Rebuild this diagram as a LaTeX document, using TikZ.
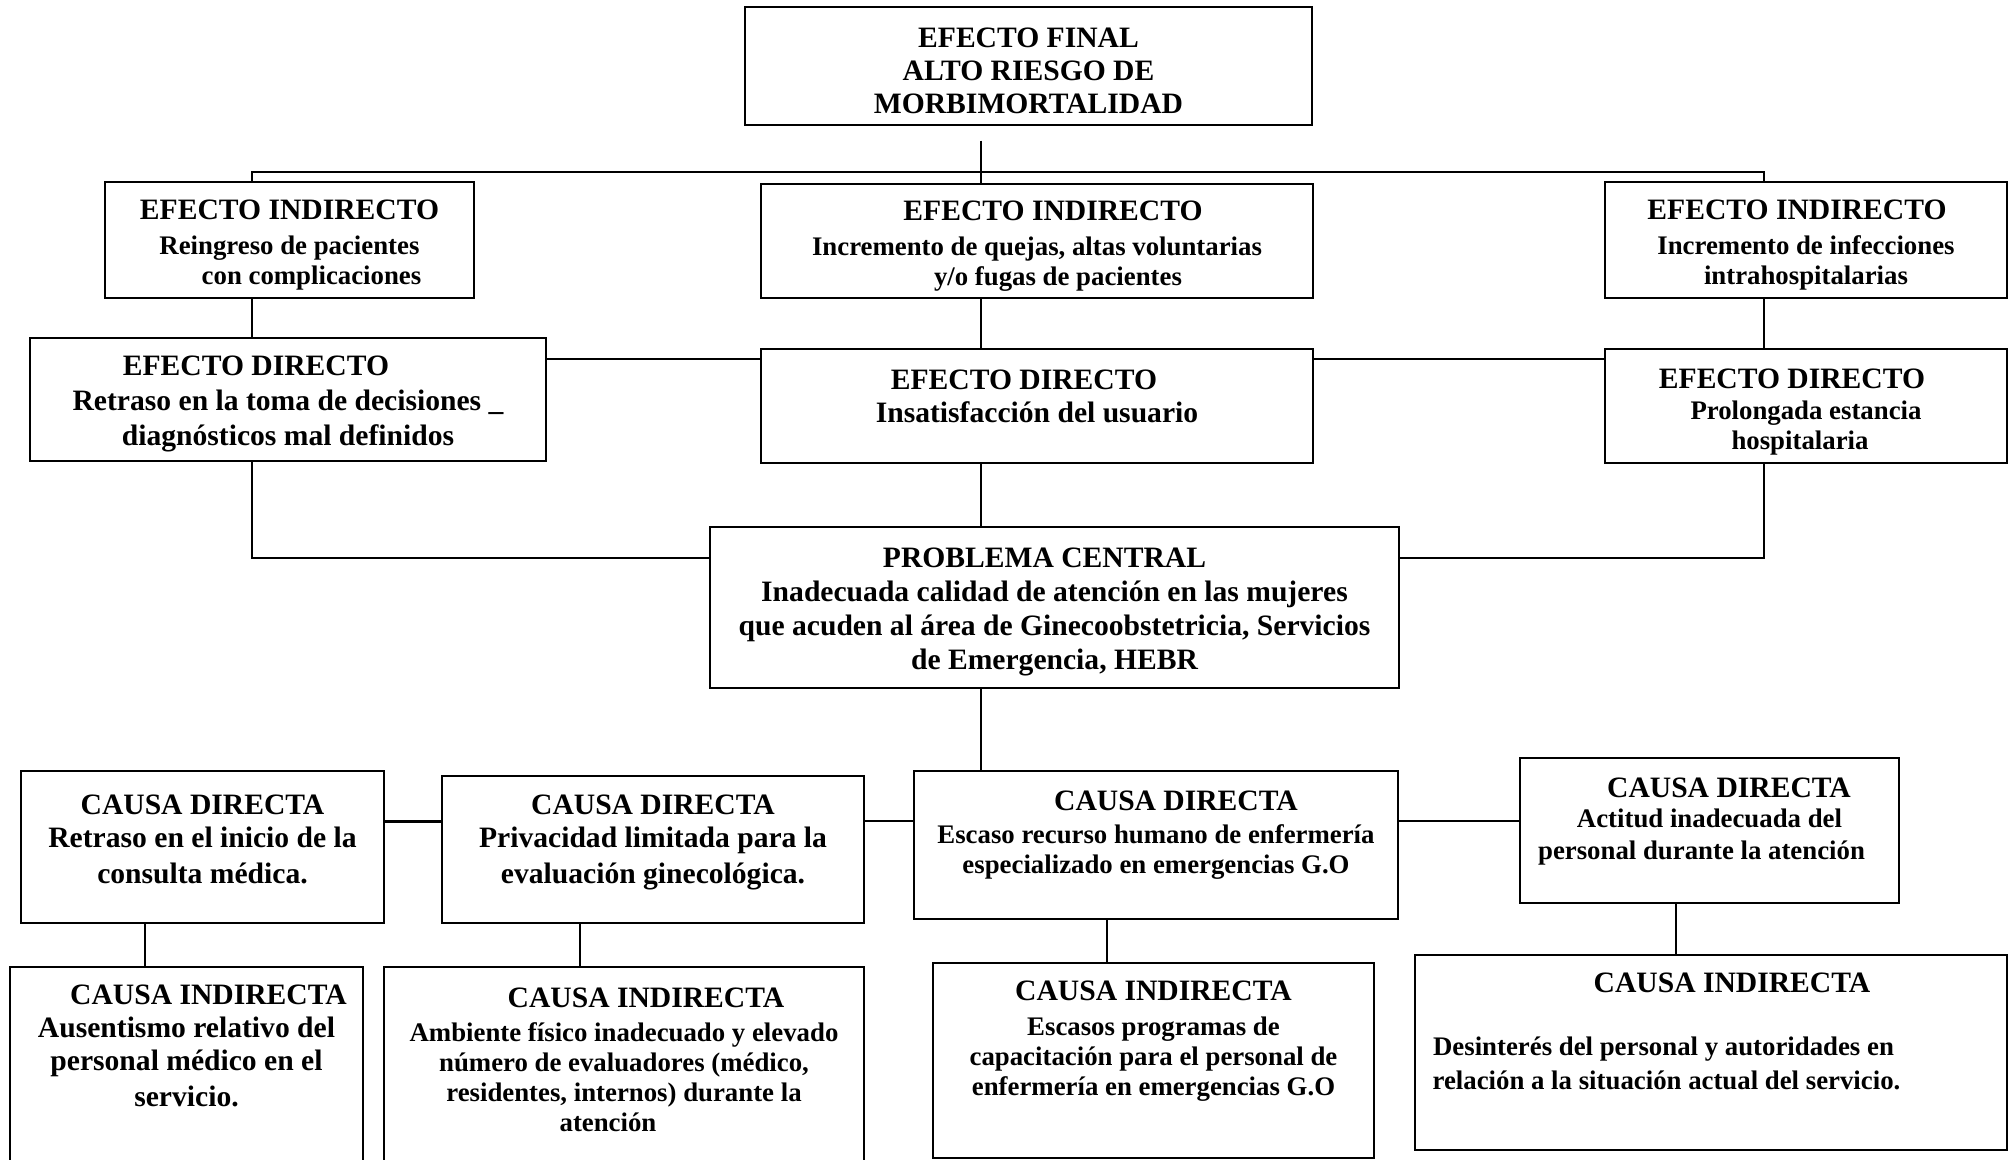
\documentclass[tikz,border=0pt]{standalone}
\usepackage{fontspec}
\setmainfont{Liberation Serif}
\tikzstyle{box} = [rectangle, draw, line width=0.75pt, align=center, inner sep=2pt, font=\bfseries\fontsize{14.8}{16.5}\selectfont]
\tikzstyle{sbox} = [box, font=\bfseries\fontsize{13.4}{15}\selectfont]
\tikzstyle{conn} = [line width=0.75pt]
\newcommand{\hd}{\fontsize{14.8}{16.5}\selectfont}
\newcommand{\lift}[1]{\rule[-#1]{0pt}{#1}}
\newcommand{\sink}[1]{\rule{0pt}{#1}}

\begin{document}
\begin{tikzpicture}[x=0.5pt, y=-0.5pt]
    \useasboundingbox (0,0) rectangle (2013,1160);
    % efectos
    \node [box, minimum width=283.5pt, minimum height=59pt] at (1028.5,66) (final) {\sink{15pt}EFECTO FINAL\\ALTO RIESGO DE\\MORBIMORTALIDAD};
    \node [sbox, minimum width=184.5pt, minimum height=58pt] at (289.5,240) (ei1) {\sink{14.5pt}{\hd EFECTO INDIRECTO}\\[2.5pt]Reingreso de pacientes\hspace*{23.5pt}\\\hspace*{22pt}con complicaciones};
    \node [sbox, minimum width=276pt, minimum height=57pt] at (1037,241) (ei2) {\sink{14.5pt}\hspace*{16pt}{\hd EFECTO INDIRECTO}\\[2.5pt]Incremento de quejas, altas voluntarias\hspace*{20pt}\\\hspace*{21pt}y/o fugas de pacientes};
    \node [sbox, minimum width=201pt, minimum height=58pt] at (1806,240) (ei3) {\sink{14.5pt}{\hd EFECTO INDIRECTO}\hspace*{9pt}\\[2.5pt]Incremento de infecciones\\intrahospitalarias};
    \node [box, minimum width=258pt, minimum height=61.5pt] at (288,399.5) (ed1) {\sink{13.8pt}EFECTO DIRECTO\hspace*{32pt}\\[1pt]Retraso en la toma de decisiones \_\\[1pt]diagnósticos mal definidos};
    \node [box, minimum width=276pt, minimum height=57pt] at (1037,406) (ed2) {EFECTO DIRECTO\hspace*{13pt}\\Insatisfacción del usuario\lift{10pt}};
    \node [sbox, minimum width=201pt, minimum height=57pt] at (1806,406) (ed3) {\sink{16.2pt}{\hd EFECTO DIRECTO}\hspace*{14pt}\\[0.5pt]Prolongada estancia\hspace*{6pt}\\hospitalaria\hspace*{6pt}};
    % problema central
    \node [box, minimum width=344.5pt, minimum height=80.5pt] at (1054.5,607.5) (central) {\sink{13.8pt}PROBLEMA CENTRAL\hspace*{10pt}\\[0.5pt]Inadecuada calidad de atención en las mujeres\\[0.5pt]que acuden al área de Ginecoobstetricia, Servicios\\[0.5pt]de Emergencia, HEBR};
    % causas
    \node [box, minimum width=181.5pt, minimum height=76pt] at (202.5,847) (cd1) {CAUSA DIRECTA\\Retraso en el inicio de la\\[1.5pt]consulta médica.\lift{8pt}};
    \node [box, minimum width=211pt, minimum height=73.5pt] at (653,849.5) (cd2) {CAUSA DIRECTA\\Privacidad limitada para la\\[1.5pt]evaluación ginecológica.\lift{10pt}};
    \node [sbox, minimum width=242pt, minimum height=74pt] at (1156,845) (cd3) {\hspace*{20pt}{\hd CAUSA DIRECTA}\\[1.5pt]Escaso recurso humano de enfermería\\especializado en emergencias G.O\lift{13pt}};
    \node [sbox, minimum width=189.5pt, minimum height=72.5pt] at (1709.5,830.5) (cd4) {\hspace*{19.5pt}{\hd CAUSA DIRECTA}\\Actitud inadecuada del\hspace*{8pt}\\[1pt]personal durante la atención\hspace*{8pt}\lift{12pt}};
    \node [box, minimum width=176.5pt, minimum height=106.5pt] at (186.5,1073.5) (ci1) {\hspace*{22pt}CAUSA INDIRECTA\\Ausentismo relativo del\\personal médico en el\\[1.5pt]servicio.\lift{28pt}};
    \node [sbox, minimum width=240pt, minimum height=106.5pt] at (624,1073.5) (ci2) {\hspace*{22pt}{\hd CAUSA INDIRECTA}\\[2pt]Ambiente físico inadecuado y elevado\\número de evaluadores (médico,\hspace*{17pt}\\residentes, internos) durante la\\atención\hspace*{16pt}\lift{14pt}};
    \node [sbox, minimum width=220.5pt, minimum height=97.5pt] at (1153.5,1060.5) (ci3) {{\hd CAUSA INDIRECTA}\\[2.5pt]Escasos programas de\\capacitación para el personal de\\enfermería en emergencias G.O\lift{22pt}};
    \node [sbox, minimum width=296pt, minimum height=97.5pt] at (1711,1052.5) (ci4) {\hspace*{21pt}{\hd CAUSA INDIRECTA}\\[16.5pt]\hspace*{-47.5pt}Desinterés del personal y autoridades en\\[2pt]\hspace*{-44.5pt}relación a la situación actual del servicio.\lift{21pt}};
    % lineas
    \coordinate (busL) at (252,172);
    \coordinate (busM) at (981,172);
    \coordinate (busR) at (1764,172);
    \coordinate (edrow) at (0,359);
    \coordinate (pcrow) at (0,558);
    \coordinate (cdrow) at (0,821);
    \coordinate (colA) at (145,0);
    \coordinate (colB) at (580,0);
    \coordinate (colC) at (1107,0);
    \coordinate (colD) at (1676,0);
    \draw [conn] ([yshift=-7.5pt]final.south -| busM) -- (ei2.north -| busM);
    \draw [conn] (ei1.north -| busL) -- (busL) -- (busR) -- (ei3.north -| busR);
    \draw [conn] (ei1.south -| busL) -- (ed1.north -| busL);
    \draw [conn] (ei2.south -| busM) -- (ed2.north -| busM);
    \draw [conn] (ei3.south -| busR) -- (ed3.north -| busR);
    \draw [conn] (ed1.east |- edrow) -- (ed2.west |- edrow);
    \draw [conn] (ed2.east |- edrow) -- (ed3.west |- edrow);
    \draw [conn] (ed1.south -| busL) |- (central.west |- pcrow);
    \draw [conn] (ed3.south -| busR) |- (central.east |- pcrow);
    \draw [conn] (ed2.south -| busM) -- (central.north -| busM);
    \draw [conn] (central.south -| busM) -- (cd3.north -| busM);
    \draw [conn, line width=1.5pt] (cd1.east |- cdrow) -- (cd2.west |- cdrow);
    \draw [conn] (cd2.east |- cdrow) -- (cd3.west |- cdrow);
    \draw [conn] (cd3.east |- cdrow) -- (cd4.west |- cdrow);
    \draw [conn] (cd1.south -| colA) -- (ci1.north -| colA);
    \draw [conn] (cd2.south -| colB) -- (ci2.north -| colB);
    \draw [conn] (cd3.south -| colC) -- (ci3.north -| colC);
    \draw [conn] (cd4.south -| colD) -- (ci4.north -| colD);
\end{tikzpicture}
\end{document}
